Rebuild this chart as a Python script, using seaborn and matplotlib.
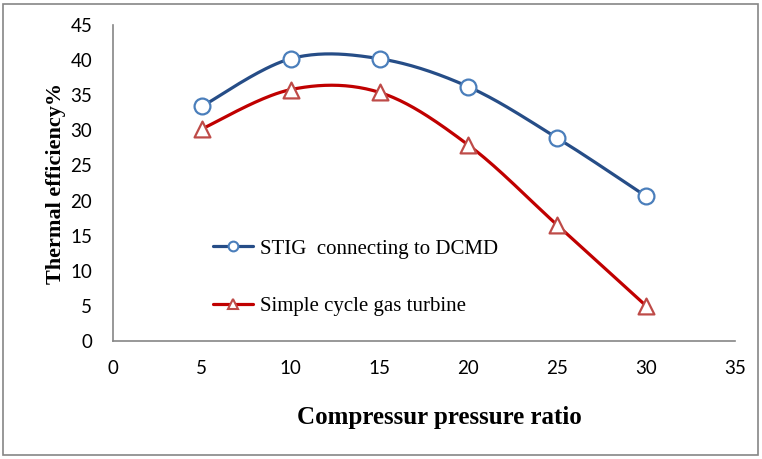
import numpy as np
import pandas as pd
import seaborn as sns
import matplotlib
matplotlib.use("Agg")
import matplotlib.pyplot as plt
from matplotlib.lines import Line2D
from matplotlib.patches import Rectangle

pressure_ratio = [5, 10, 15, 20, 25, 30]
stig_dcmd = [33.4, 40.2, 40.2, 36.2, 28.9, 20.6]
simple_cycle = [30.2, 35.8, 35.4, 27.9, 16.5, 5.0]
series_names = ["STIG  connecting to DCMD", "Simple cycle gas turbine"]
x_ticks = [0, 5, 10, 15, 20, 25, 30, 35]
y_ticks = [0, 5, 10, 15, 20, 25, 30, 35, 40, 45]


def smooth_curve(xs, ys, n=40):
    """Excel-like smoothed line: cubic Bezier segments with Catmull-Rom control points."""
    P = np.column_stack([xs, ys]).astype(float)
    pts = []
    m = len(P)
    t = np.linspace(0, 1, n)[:, None]
    for i in range(m - 1):
        p0 = P[i - 1] if i > 0 else P[i]
        p1 = P[i]
        p2 = P[i + 1]
        p3 = P[i + 2] if i + 2 < m else P[i + 1]
        c1 = p1 + (p2 - p0) / 6.0
        c2 = p2 - (p3 - p1) / 6.0
        seg = ((1 - t) ** 3) * p1 + 3 * ((1 - t) ** 2) * t * c1 + 3 * (1 - t) * t ** 2 * c2 + t ** 3 * p2
        pts.append(seg if i == 0 else seg[1:])
    pts = np.vstack(pts)
    return pts[:, 0], pts[:, 1]


sns.set_theme(style="white")
plt.rcParams["font.family"] = ["Lato", "DejaVu Sans"]
plt.rcParams["text.color"] = "black"
plt.rcParams["axes.labelcolor"] = "black"

fig = plt.figure(figsize=(7.62, 4.59), dpi=100)
ax = fig.add_axes([113 / 762, 1 - 341 / 459, (735 - 113) / 762, (341 - 25) / 459])

line_colors = ["#264D87", "#C00000"]
marker_edges = ["#4A7EBB", "#BE4B48"]
markers = ["o", "^"]

for ys, name, lc, me, mk in zip([stig_dcmd, simple_cycle], series_names, line_colors, marker_edges, markers):
    sx, sy = smooth_curve(pressure_ratio, ys)
    curve = pd.DataFrame({"x": sx, "y": sy})
    sns.lineplot(data=curve, x="x", y="y", ax=ax, color=lc, linewidth=2.3, sort=False,
                 estimator=None, legend=False)
    pts = pd.DataFrame({"x": pressure_ratio, "y": ys})
    sns.scatterplot(data=pts, x="x", y="y", ax=ax, marker=mk, s=130, facecolor="white",
                    edgecolor=me, linewidth=1.6, legend=False, zorder=5)

ax.set_xlim(0, 35)
ax.set_ylim(0, 45)
ax.set_xticks(x_ticks)
ax.set_yticks(y_ticks)
ax.tick_params(axis="both", length=0, labelsize=13.5, colors="black")
ax.tick_params(axis="x", pad=14)
ax.tick_params(axis="y", pad=15)

for s in ["top", "right"]:
    ax.spines[s].set_visible(False)
for s in ["left", "bottom"]:
    ax.spines[s].set_color("#868686")
    ax.spines[s].set_linewidth(1.2)

ax.set_xlabel("Compressur pressure ratio", fontfamily="Liberation Serif", fontweight="bold",
              fontsize=18, color="black")
ax.xaxis.set_label_coords(0.524, -0.205)
ax.set_ylabel("Thermal efficiency%", fontfamily="Liberation Serif", fontweight="bold",
              fontsize=16, labelpad=3, color="black")

handles = [Line2D([0], [0], color=lc, lw=2.3, marker=mk, markersize=7, markerfacecolor="white",
                  markeredgecolor=me, markeredgewidth=1.5)
           for lc, me, mk in zip(line_colors, marker_edges, markers)]
leg = ax.legend(handles, series_names, loc="center left", bbox_to_anchor=(0.161, 0.201),
                frameon=False, borderaxespad=0, borderpad=0, handlelength=1.9,
                handletextpad=0.33, labelspacing=1.8, labelcolor="black",
                prop={"family": "Liberation Serif", "size": 15})

fig.patches.append(Rectangle((3 / 762, 4 / 459), 755 / 762, 451 / 459, transform=fig.transFigure,
                             fill=False, edgecolor="#868686", linewidth=1.2))

fig.savefig("out.png", dpi=100)
